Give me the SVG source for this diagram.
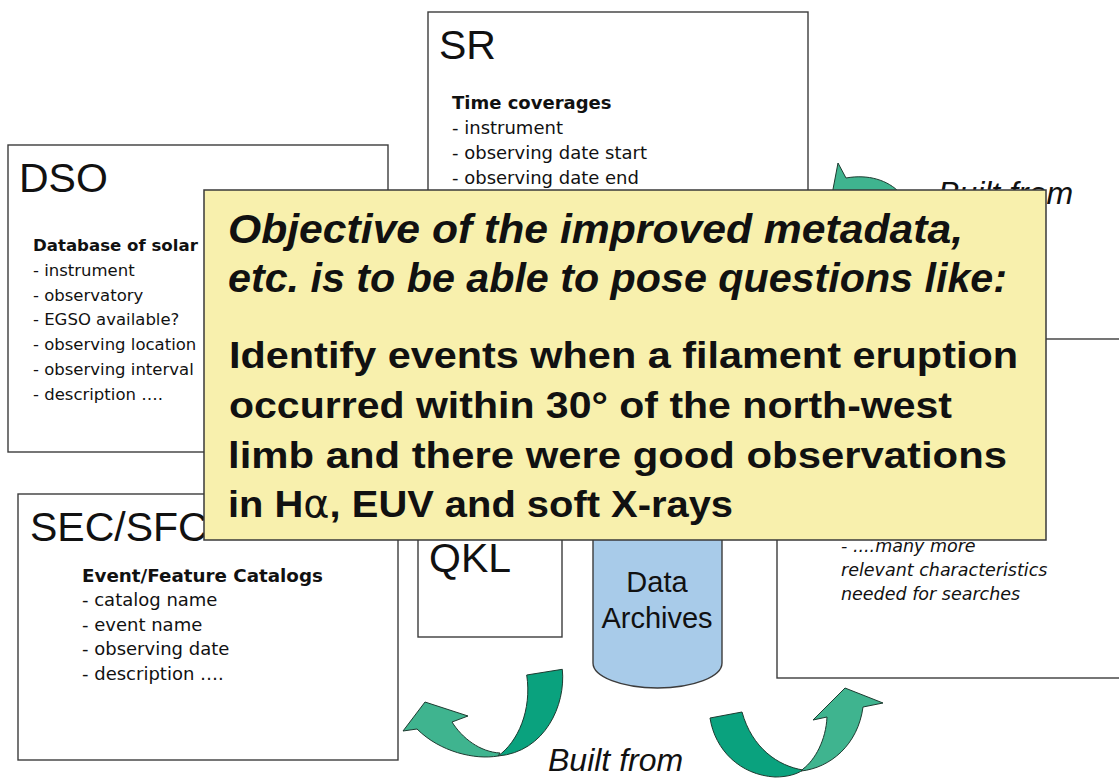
<svg xmlns="http://www.w3.org/2000/svg" width="1119" height="779" viewBox="0 0 1119 779">
  <style>
    .box { fill: #ffffff; stroke: #3c3c3c; stroke-width: 1.4; }
    .title { font-family: "Liberation Sans", Arial, sans-serif; font-size: 41px; fill: #111; }
    .head { font-family: "DejaVu Sans", Verdana, sans-serif; font-weight: bold; fill: #111; }
    .item { font-family: "DejaVu Sans", Verdana, sans-serif; fill: #111; }
    .it { font-family: "DejaVu Sans", Verdana, sans-serif; font-style: italic; font-size: 17.5px; fill: #111; }
    .dark { fill: #0aa27e; stroke: #1d3b30; stroke-width: 1; }
    .light { fill: #3fb48f; stroke: #1d3b30; stroke-width: 1; }
    .built { font-family: "Liberation Sans", Arial, sans-serif; font-style: italic; font-size: 32px; fill: #111; }
    .note { fill: #f8f0ad; stroke: #3a3a3a; stroke-width: 1.5; }
    .q1 { font-family: "Liberation Sans", Arial, sans-serif; font-style: italic; font-weight: bold; font-size: 40px; fill: #111; }
    .q2 { font-family: "Liberation Sans", Arial, sans-serif; font-weight: bold; font-size: 37px; fill: #111; }
  </style>

  <g id="SR">
    <rect class="box" x="428" y="12" width="380" height="460"/>
    <text class="title" x="439" y="59">SR</text>
    <text class="head" x="452" y="109" font-size="18">Time coverages</text>
    <text class="item" font-size="18">
      <tspan x="452" y="134">- instrument</tspan>
      <tspan x="452" y="159">- observing date start</tspan>
      <tspan x="452" y="184">- observing date end</tspan>
    </text>
  </g>

  <g id="DSO">
    <rect class="box" x="8" y="145" width="380" height="307"/>
    <text class="title" x="19" y="192">DSO</text>
    <text class="head" x="33" y="251" font-size="16.6">Database of solar</text>
    <text class="item" font-size="16.5">
      <tspan x="33" y="276">- instrument</tspan>
      <tspan x="33" y="301">- observatory</tspan>
      <tspan x="33" y="325">- EGSO available?</tspan>
      <tspan x="33" y="350">- observing location</tspan>
      <tspan x="33" y="375">- observing interval</tspan>
      <tspan x="33" y="400">- description ….</tspan>
    </text>
  </g>

  <g id="QKL">
    <rect class="box" x="418" y="470" width="144" height="167"/>
    <text class="title" x="429" y="572">QKL</text>
  </g>

  <g id="DataArchives">
    <path d="M593,480 L593,663 A64.5,25 0 0 0 722,663 L722,480 A64.5,25 0 0 0 593,480 Z" fill="#a8cbe9" stroke="#3c3c3c" stroke-width="1.4"/>
    <text x="657" y="592" text-anchor="middle" font-family="Liberation Sans, Arial, sans-serif" font-size="29" fill="#111">Data</text>
    <text x="657" y="628" text-anchor="middle" font-family="Liberation Sans, Arial, sans-serif" font-size="29" fill="#111">Archives</text>
  </g>

  <g id="Characteristics">
    <rect class="box" x="777" y="339" width="360" height="339"/>
    <text class="it">
      <tspan x="841" y="552">- ....many more</tspan>
      <tspan x="841" y="576">relevant characteristics</tspan>
      <tspan x="841" y="600">needed for searches</tspan>
    </text>
  </g>

  <g id="SEC-SFC">
    <rect class="box" x="18" y="494" width="380" height="266"/>
    <text class="title" x="30" y="541">SEC/SFC</text>
    <text class="head" x="82" y="582" font-size="18.3">Event/Feature Catalogs</text>
    <text class="item" font-size="18">
      <tspan x="82" y="606">- catalog name</tspan>
      <tspan x="82" y="631">- event name</tspan>
      <tspan x="82" y="655">- observing date</tspan>
      <tspan x="82" y="680">- description ….</tspan>
    </text>
  </g>

  <g id="connectors">
    <!-- top right arrow (mostly hidden) -->
    <path class="light" d="M838,163 L846,178 C868,174 888,180 900,193 L900,205 L830,205 Z"/>
    <text class="built" x="938" y="204">Built from</text>
    <!-- bottom left arrow -->
    <path class="dark" d="M526.7,675 L562.3,669.3 C566,705 545,752 498,756 C518,742 532,710 526.7,675 Z"/>
    <path class="light" d="M498,756 C475,760 440,752 417,729 L403,731 L425,702 L468,716 L452,722 C462,738 480,752 500,753 Z"/>
    <!-- bottom right arrow -->
    <path class="dark" d="M710,718 C715,750 740,775 775,777 C788,777 797,774 803,770 C778,766 752,748 742,712 Z"/>
    <path class="light" d="M801,771 C830,768 858,745 863,707 L883,703 L845,688 L813,720 L827,717 C826,740 815,760 803,769 Z"/>
    <text class="built" x="548" y="771">Built from</text>
  </g>

  <g id="objective-note">
    <rect class="note" x="204" y="190" width="842" height="350"/>
    <text class="q1" x="228" y="243" textLength="735" lengthAdjust="spacingAndGlyphs">Objective of the improved metadata,</text>
    <text class="q1" x="228" y="292" textLength="779" lengthAdjust="spacingAndGlyphs">etc. is to be able to pose questions like:</text>
    <text class="q2" x="229" y="368" textLength="789" lengthAdjust="spacingAndGlyphs">Identify events when a filament eruption</text>
    <text class="q2" x="229" y="418" textLength="723" lengthAdjust="spacingAndGlyphs">occurred within 30° of the north-west</text>
    <text class="q2" x="228" y="468" textLength="779" lengthAdjust="spacingAndGlyphs">limb and there were good observations</text>
    <text class="q2" x="228" y="517" textLength="505" lengthAdjust="spacingAndGlyphs">in H<tspan font-family="DejaVu Sans, sans-serif" font-weight="normal">α</tspan>, EUV and soft X-rays</text>
  </g>
</svg>
